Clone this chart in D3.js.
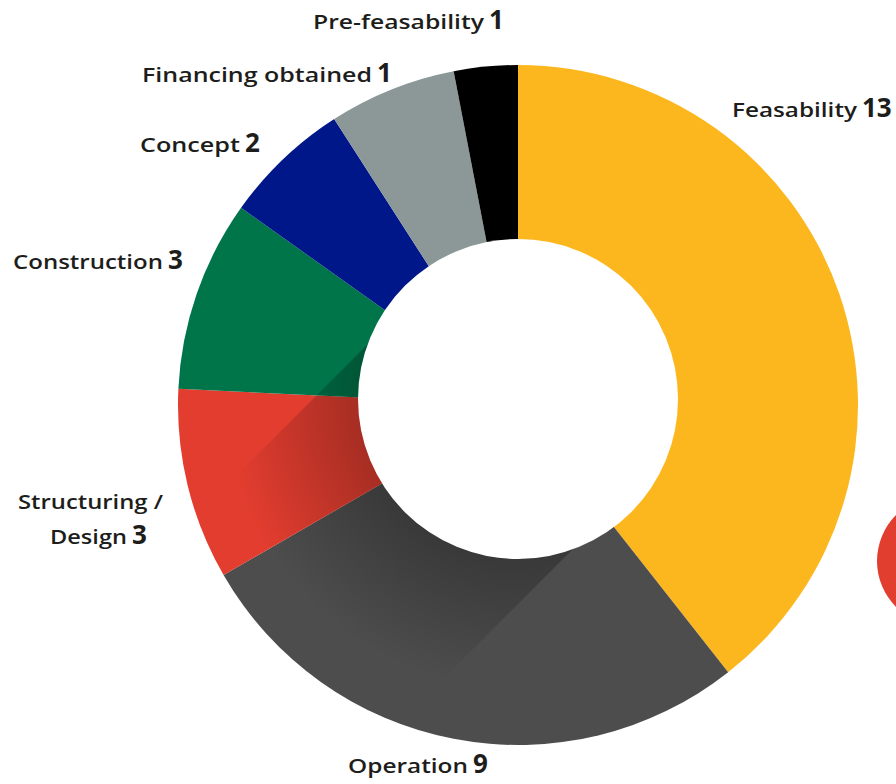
<!DOCTYPE html>
<html>
<head>
<meta charset="utf-8">
<script src="https://cdn.jsdelivr.net/npm/d3@7"></script>
<style>
  html, body { margin: 0; padding: 0; background: #ffffff; }
  svg { display: block; }
</style>
</head>
<body>
<div id="chart"></div>
<script>
// ---- data ----
const categories = ["Feasability", "Operation", "Structuring / Design", "Construction", "Concept", "Financing obtained", "Pre-feasability"];
const sliceValues = [13, 9, 3, 3, 2, 2, 1];          // slice sizes as drawn
const labelValues = ["13", "9", "3", "3", "2", "1", "1"]; // numbers as printed
const labelLines = [["Feasability"], ["Operation"], ["Structuring /", "Design"], ["Construction"], ["Concept"], ["Financing obtained"], ["Pre-feasability"]];
const sliceColors = ["#FDB71E", "#4D4D4D", "#E23D2F", "#00754A", "#00178A", "#8C9798", "#000000"];

// ---- layout ----
const W = 896, H = 784;
const cx = 518, cy = 405, R = 340;
const holeCx = 518, holeCy = 399, holeR = 160;
// label anchors: start x, baseline y, target width for each line
const labelLayout = [
  [{x: 732, y: 117, w: 125}],
  [{x: 348, y: 773, w: 120}],
  [{x: 18, y: 509, w: 145}, {x: 50, y: 544, w: 77}],
  [{x: 13, y: 269, w: 150}],
  [{x: 140, y: 152, w: 100}],
  [{x: 142, y: 82, w: 230}],
  [{x: 313, y: 29, w: 171}]
];

const svg = d3.select("#chart").append("svg").attr("width", W).attr("height", H);
const defs = svg.append("defs");

// shadow gradient
const grad = defs.append("radialGradient")
  .attr("id", "holeShadow").attr("gradientUnits", "userSpaceOnUse")
  .attr("cx", holeCx).attr("cy", holeCy).attr("r", 300);
grad.append("stop").attr("offset", 0).attr("stop-color", "#000").attr("stop-opacity", 0.26);
grad.append("stop").attr("offset", holeR / 300).attr("stop-color", "#000").attr("stop-opacity", 0.26);
grad.append("stop").attr("offset", 0.97).attr("stop-color", "#000").attr("stop-opacity", 0);

// clip to outer disc
defs.append("clipPath").attr("id", "outerClip")
  .append("circle").attr("cx", cx).attr("cy", cy).attr("r", R);

// decorative red circle at right
svg.append("circle").attr("cx", 942).attr("cy", 561).attr("r", 65).attr("fill", "#E23E30");

const pie = d3.pie().sort(null).value(d => d).startAngle(0).endAngle(2 * Math.PI);
const arcs = pie(sliceValues);
const arc = d3.arc().innerRadius(0).outerRadius(R);

const g = svg.append("g").attr("transform", `translate(${cx},${cy})`);
g.selectAll("path.slice").data(arcs).join("path")
  .attr("class", "slice")
  .attr("d", arc)
  .attr("fill", (d, i) => sliceColors[i]);

// shadow band cast toward lower-left
const hw = 145, L = 700;
const d = [-Math.SQRT1_2, Math.SQRT1_2], n = [Math.SQRT1_2, Math.SQRT1_2];
const band = [
  [holeCx + hw * n[0], holeCy + hw * n[1]],
  [holeCx + hw * n[0] + L * d[0], holeCy + hw * n[1] + L * d[1]],
  [holeCx - hw * n[0] + L * d[0], holeCy - hw * n[1] + L * d[1]],
  [holeCx - hw * n[0], holeCy - hw * n[1]]
];
svg.append("g").attr("clip-path", "url(#outerClip)")
  .append("path")
  .attr("d", d3.line()(band) + "Z")
  .attr("fill", "url(#holeShadow)");

// hole
svg.append("circle").attr("cx", holeCx).attr("cy", holeCy).attr("r", holeR).attr("fill", "#ffffff");

// labels
const lab = svg.append("g").attr("fill", "#1d1d1b").attr("font-family", "'Open Sans', 'Noto Sans', sans-serif");
categories.forEach((c, i) => {
  const lines = labelLines[i], lay = labelLayout[i];
  lines.forEach((t, j) => {
    const p = lay[j];
    lab.append("text")
      .attr("x", p.x).attr("y", p.y)
      .attr("font-size", 19).attr("font-weight", 600)
      .attr("textLength", p.w).attr("lengthAdjust", "spacingAndGlyphs")
      .text(t);
    if (j === lines.length - 1) {
      lab.append("text")
        .attr("x", p.x + p.w + 5).attr("y", p.y)
        .attr("font-size", 26).attr("font-weight", 700)
        .text(labelValues[i]);
    }
  });
});
</script>
</body>
</html>
